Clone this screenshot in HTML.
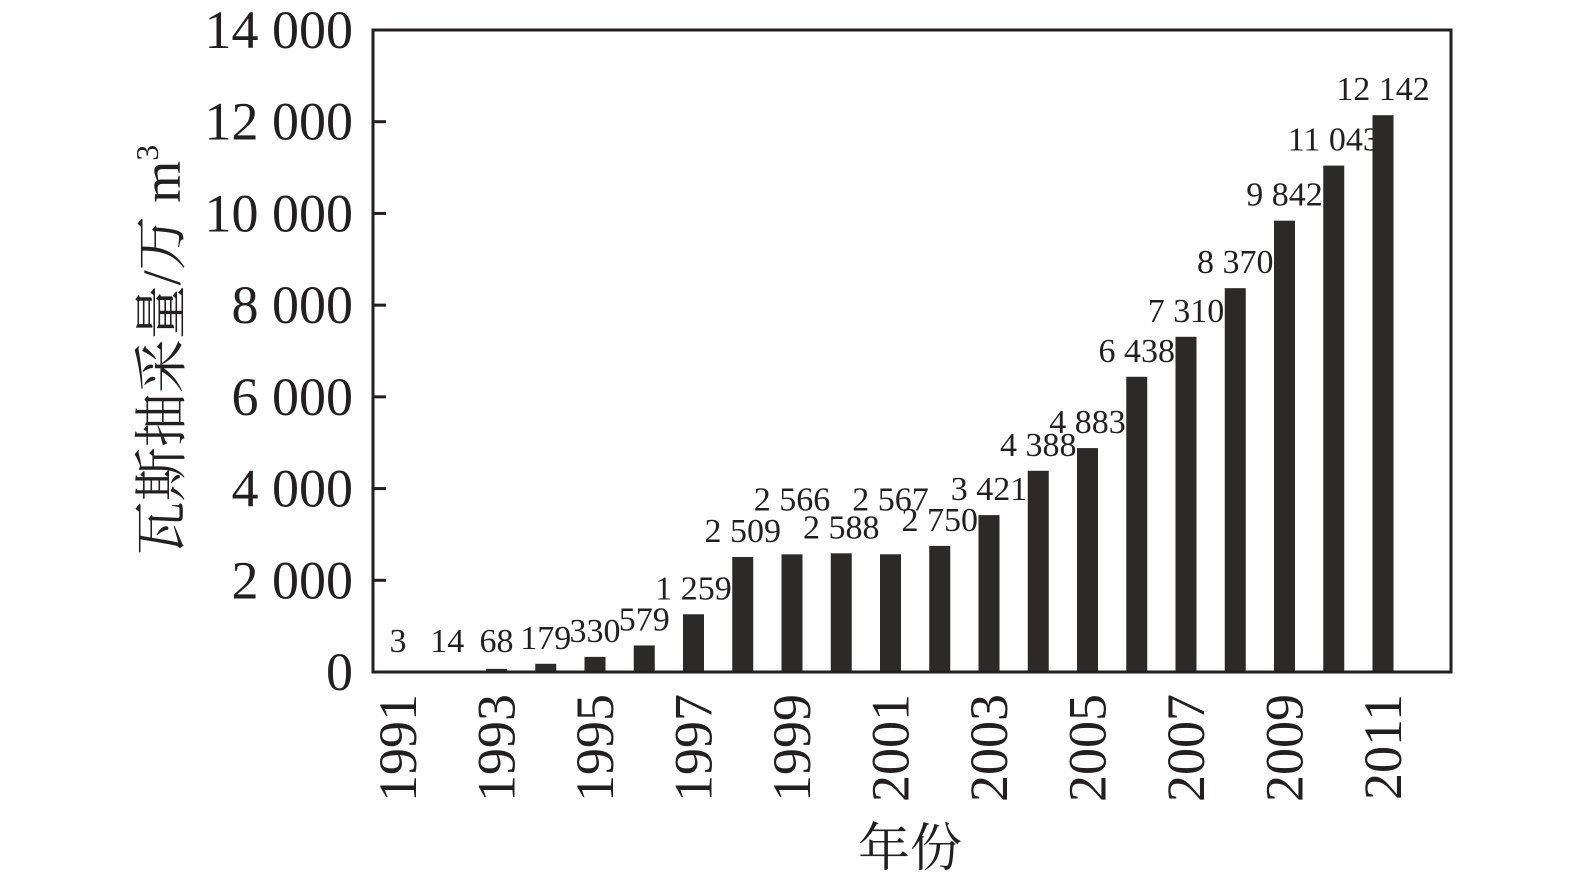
<!DOCTYPE html>
<html><head><meta charset="utf-8"><style>
html,body{margin:0;padding:0;background:#fff;}
svg text{font-family:"Liberation Serif","Noto Serif CJK SC",serif;fill:#231f20;}
</style></head><body>
<svg width="1575" height="879" viewBox="0 0 1575 879">
<g id="chart"></g>
</svg>
<script>
const years=[1991,1992,1993,1994,1995,1996,1997,1998,1999,2000,2001,2002,2003,2004,2005,2006,2007,2008,2009,2010,2011];
const values=[3,14,68,179,330,579,1259,2509,2566,2588,2567,2750,3421,4388,4883,6438,7310,8370,9842,11043,12142];
const valueLabels=["3","14","68","179","330","579","1 259","2 509","2 566","2 588","2 567","2 750","3 421","4 388","4 883","6 438","7 310","8 370","9 842","11 043","12 142"];
const yTicks=[0,2000,4000,6000,8000,10000,12000,14000];
const yTickLabels=["0","2 000","4 000","6 000","8 000","10 000","12 000","14 000"];
const xTickYears=[1991,1993,1995,1997,1999,2001,2003,2005,2007,2009,2011];
const raisedLabels=[1999,2001];

const NS="http://www.w3.org/2000/svg";
const g=document.getElementById('chart');
const L=373,R=1451,T=30,B=672;
const yMax=14000;
const y=v=>B-(v/yMax)*(B-T);
const x=yr=>398+(yr-1991)*49.25;
const bw=21;
function mk(tag,attrs,parent){const e=document.createElementNS(NS,tag);for(const k in attrs)e.setAttribute(k,attrs[k]);(parent||g).appendChild(e);return e;}

years.forEach((yr,i)=>{
  const top=y(values[i]);
  const r=mk('rect',{x:x(yr)-bw/2,y:top,width:bw,height:B-top,fill:'#2b2a29'});
  
  
  let ly=Math.min(top-15,652);
  if(raisedLabels.includes(yr)) ly-=29;
  const t=mk('text',{x:x(yr),y:ly,'font-size':34,'text-anchor':'middle'});
  t.textContent=valueLabels[i];
  
  
});

const frame=mk('rect',{x:L,y:T,width:R-L,height:B-T,fill:'none',stroke:'#231f20','stroke-width':3});



yTicks.forEach((v,i)=>{
  const ln=mk('line',{x1:L,x2:L+13,y1:y(v),y2:y(v),stroke:'#231f20','stroke-width':3});
  
  
  const t=mk('text',{x:353,y:y(v)+18,'font-size':54,'text-anchor':'end'});
  t.textContent=yTickLabels[i];
  
  
});

xTickYears.forEach(yr=>{
  const t=mk('text',{x:0,y:0,'font-size':54,'text-anchor':'end',transform:`translate(${x(yr)+18},694) rotate(-90)`});
  t.textContent=yr;
  
  
});

const xt=mk('text',{x:910,y:866,'font-size':52,'text-anchor':'middle'});
xt.textContent='年份';



const yt=mk('text',{x:0,y:0,'font-size':54,'text-anchor':'middle',transform:'translate(180,350) rotate(-90)'});


yt.appendChild(document.createTextNode('瓦斯抽采量/万 m'));
const sup=mk('tspan',{'font-size':32,dy:-22},yt);
sup.textContent='3';
</script>
</body></html>
